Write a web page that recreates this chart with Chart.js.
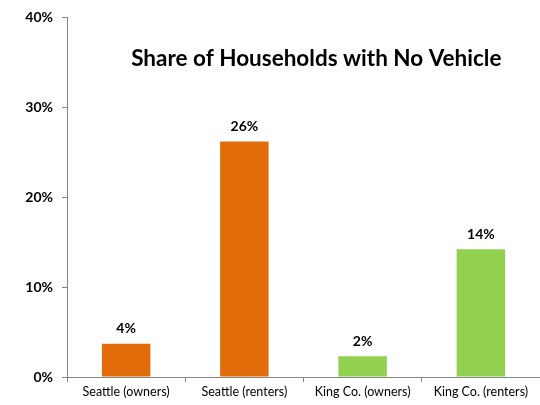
<!DOCTYPE html>
<html><head><meta charset="utf-8">
<script src="https://cdn.jsdelivr.net/npm/chart.js@4"></script>
<style>html,body{margin:0;padding:0;background:#fff}#wrap{width:540px;height:405px}</style>
</head><body><div id="wrap"><canvas id="c"></canvas></div>
<script>
const categories = ["Seattle (owners)", "Seattle (renters)", "King Co. (owners)", "King Co. (renters)"];
const values = [3.7, 26.2, 2.3, 14.2];
const valueLabels = ["4%", "26%", "2%", "14%"];
const barColors = ["#E36C0A", "#E36C0A", "#92D050", "#92D050"];
const yTicks = [0, 10, 20, 30, 40];
const chartTitle = "Share of Households with No Vehicle";

const FONT = "Lato, 'Open Sans', sans-serif";

const labelPlugin = {
  id: 'labels',
  afterDatasetsDraw(chart) {
    const ctx = chart.ctx;
    const meta = chart.getDatasetMeta(0);
    ctx.save();
    ctx.fillStyle = '#000';
    ctx.font = "bold 14px " + FONT;
    ctx.textAlign = 'center';
    ctx.textBaseline = 'middle';
    meta.data.forEach((bar, i) => {
      ctx.fillText(valueLabels[i], bar.x, bar.y - 15);
    });
    const a = chart.chartArea;
    ctx.font = "bold 22.5px " + FONT;
    ctx.fillText(chartTitle, a.left + (a.right - a.left) * 0.527, 59);
    ctx.restore();
  }
};

new Chart(document.getElementById('c'), {
  type: 'bar',
  data: {
    labels: categories,
    datasets: [{ data: values, backgroundColor: barColors, categoryPercentage: 1, barPercentage: 0.41 }]
  },
  options: {
    responsive: true, maintainAspectRatio: false, animation: false,
    layout: { padding: { top: 17, right: 0, left: 0, bottom: 0 } },
    plugins: { legend: { display: false }, tooltip: { enabled: false } },
    scales: {
      x: {
        grid: { display: true, drawOnChartArea: false, color: '#868686', tickLength: 5, offset: true },
        border: { display: true, color: '#868686' },
        ticks: { color: '#000', font: { family: FONT, size: 12.5 }, padding: 2, maxRotation: 0 },
        afterFit(s) { s.height = 28; }
      },
      y: {
        min: 0, max: 40,
        afterBuildTicks(s) { s.ticks = yTicks.map(v => ({ value: v })); },
        grid: { display: true, drawOnChartArea: false, color: '#868686', tickLength: 5 },
        border: { display: true, color: '#868686' },
        ticks: { color: '#000', font: { family: FONT, size: 14, weight: 'bold' }, padding: 9, callback: v => v + '%' },
        afterFit(s) { s.width = 67; }
      }
    }
  },
  plugins: [labelPlugin]
});
</script></body></html>
